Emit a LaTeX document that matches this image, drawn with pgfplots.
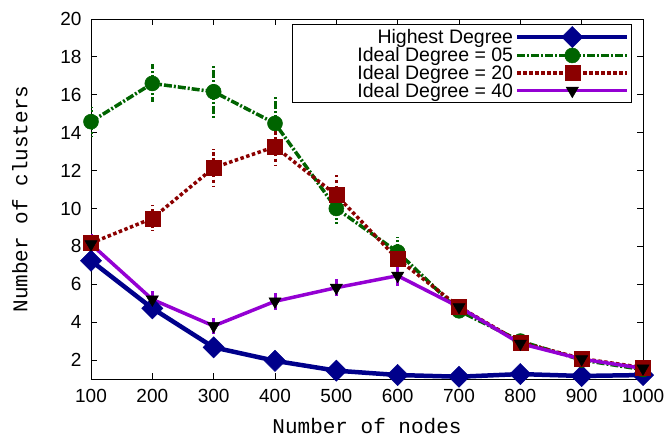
\documentclass[border=0pt]{standalone}
\usepackage{pgfplots}
\pgfplotsset{compat=1.18}
\usepackage{fontspec}
\setmainfont{Liberation Sans}
\setmonofont{Liberation Mono}

\definecolor{gpblue}{RGB}{0,0,139}
\definecolor{gpgreen}{RGB}{0,100,0}
\definecolor{gpred}{RGB}{139,0,0}
\definecolor{gpviolet}{RGB}{148,0,211}

\newcommand{\lent}[1]{\makebox[217pt][r]{#1}}

\begin{document}
\begin{tikzpicture}
\begin{axis}[
  scale only axis,
  width=552pt, height=360pt,
  xmin=100, xmax=1000,
  ymin=1, ymax=20,
  xtick={100,200,...,1000},
  ytick={2,4,...,20},
  tick align=inside,
  major tick length=6pt,
  axis line style={line width=1pt},
  every tick/.style={black, line width=0.8pt},
  /pgf/number format/assume math mode=true,
  /pgf/number format/1000 sep={},
  tick label style={font=\fontsize{19}{20}\selectfont},
  yticklabel style={xshift=-6pt},
  xticklabel style={yshift=-7pt},
  xlabel={Number of nodes},
  ylabel={Number of clusters},
  label style={font=\ttfamily\fontsize{21}{24}\selectfont},
  xlabel style={at={(axis description cs:0.5,-0.13)}, anchor=center},
  ylabel style={at={(axis description cs:-0.129,0.5)}, anchor=center},
  legend style={
    at={(0.98,0.986)}, anchor=north east,
    font=\fontsize{19.5}{19}\selectfont,
    draw=black, line width=0.8pt,
    row sep=-2pt, inner sep=2pt,
  },
  legend cell align=right,
  legend plot pos=right,
  legend image code/.code={
    \draw[mark repeat=2,mark phase=2,#1] plot coordinates {(0pt,0pt) (55pt,0pt) (110pt,0pt)};
  },
  error bars/y dir=both,
  error bars/y explicit,
  error bars/error mark=none,
]

% Highest Degree
\addplot[gpblue, line width=4.5pt, mark=square*, mark size=7.5pt,
  mark options={rotate=45, solid, fill=gpblue, line width=0.5pt},
  error bars/error bar style={line width=3pt, solid}]
coordinates {
  (100,7.24) +- (0,0.4)
  (200,4.73) +- (0,0.4)
  (300,2.67) +- (0,0.2)
  (400,1.96) +- (0,0.1)
  (500,1.44) +- (0,0.1)
  (600,1.21) +- (0,0.05)
  (700,1.12) +- (0,0.05)
  (800,1.26) +- (0,0.05)
  (900,1.16) +- (0,0.05)
  (1000,1.21) +- (0,0.05)
}; \addlegendentry{\lent{Highest Degree}}

% Ideal Degree = 05
\addplot[gpgreen, line width=3.5pt, dash pattern=on 8pt off 2pt on 2pt off 2pt,
  mark=*, mark size=7.5pt, mark options={solid, fill=gpgreen, line width=0.5pt},
  error bars/error bar style={line width=3pt}]
coordinates {
  (100,14.58) +- (0,0.75)
  (200,16.60) +- (0,1.0)
  (300,16.16) +- (0,1.4)
  (400,14.49) +- (0,1.45)
  (500,10.00) +- (0,0.8)
  (600,7.70) +- (0,0.8)
  (700,4.60) +- (0,0.25)
  (800,3.00) +- (0,0.2)
  (900,2.00) +- (0,0.1)
  (1000,1.50) +- (0,0.1)
}; \addlegendentry{\lent{Ideal Degree = 05}}

% Ideal Degree = 20
\addplot[gpred, line width=3.5pt, dash pattern=on 3.5pt off 2.5pt,
  mark=square*, mark size=7.5pt, mark options={solid, fill=gpred, line width=0.5pt},
  error bars/error bar style={line width=3pt}]
coordinates {
  (100,8.17) +- (0,0.3)
  (200,9.48) +- (0,0.68)
  (300,12.15) +- (0,1.0)
  (400,13.26) +- (0,1.0)
  (500,10.70) +- (0,1.05)
  (600,7.33) +- (0,0.6)
  (700,4.81) +- (0,0.3)
  (800,2.93) +- (0,0.2)
  (900,2.08) +- (0,0.1)
  (1000,1.60) +- (0,0.1)
}; \addlegendentry{\lent{Ideal Degree = 20}}

% Ideal Degree = 40
\addplot[gpviolet, line width=3.5pt,
  mark=triangle*, mark size=7pt,
  mark options={rotate=180, solid, fill=black, draw=black, line width=0.5pt},
  error bars/error bar style={line width=3pt, solid}]
coordinates {
  (100,8.12) +- (0,0.55)
  (200,5.20) +- (0,0.45)
  (300,3.80) +- (0,0.4)
  (400,5.10) +- (0,0.45)
  (500,5.82) +- (0,0.45)
  (600,6.45) +- (0,0.55)
  (700,4.80) +- (0,0.3)
  (800,2.87) +- (0,0.2)
  (900,2.05) +- (0,0.1)
  (1000,1.56) +- (0,0.1)
}; \addlegendentry{\lent{Ideal Degree = 40}}

\end{axis}
\pgfresetboundingbox
\path ([xshift=-91pt,yshift=-58pt]current axis.south west) rectangle ([xshift=29pt,yshift=19pt]current axis.north east);
\end{tikzpicture}
\end{document}
